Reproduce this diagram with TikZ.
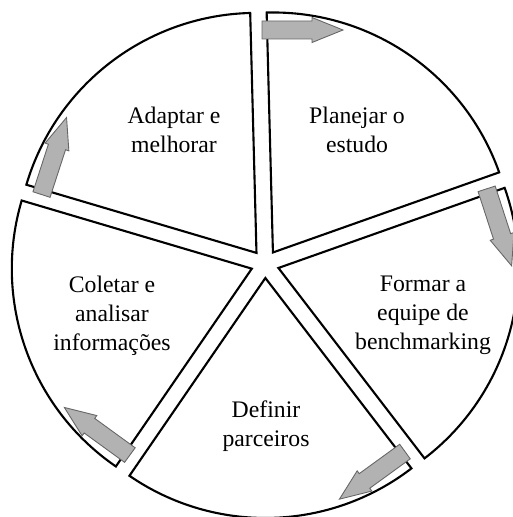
\documentclass[tikz,border=0pt]{standalone}
\usepackage{fontspec}
\setmainfont{Liberation Serif}

\begin{document}
\begin{tikzpicture}[sector/.style={draw=black, line width=1.2pt, fill=white},
  stage/.style={align=center, inner sep=0pt, font=\fontsize{13.5}{16.5}\selectfont},
  turn/.style={draw=black!60, fill=black!30, line width=0.5pt}]
\useasboundingbox (-5.30,-5.06) rectangle (4.94,5.28);
\foreach \a in {19.5,91.5,163.5,235.5,307.5}
  \draw[sector, shift={({\a+36}:0.28)}] (0,0) -- (\a:4.8) arc[start angle=\a, end angle=\a+72, radius=4.8] -- cycle;

\node[stage] (plan) at (1.84,2.68) {Planejar o\\estudo};
\node[stage] (form) at (3.16,-1.02) {Formar a\\equipe de\\benchmarking};
\node[stage] (parc) at (0.02,-3.24) {Definir\\parceiros};
\node[stage] (cole) at (-3.06,-1.04) {Coletar e\\analisar\\informações};
\node[stage] (adap) at (-1.82,2.68) {Adaptar e\\melhorar};

\foreach \i in {0,...,4}
  \draw[turn, rotate=-72*\i] (-0.06,4.50) -- (0.94,4.50) -- (0.94,4.43) -- (1.56,4.68) -- (0.94,4.93) -- (0.94,4.86) -- (-0.06,4.86) -- cycle;
\end{tikzpicture}
\end{document}
